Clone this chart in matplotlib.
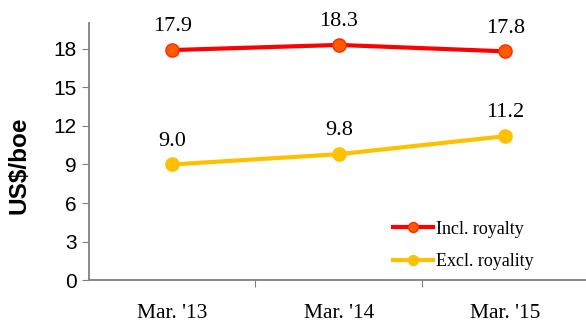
import matplotlib
matplotlib.use("Agg")
import matplotlib.pyplot as plt

categories = ["Mar. '13", "Mar. '14", "Mar. '15"]
incl_royalty = [17.9, 18.3, 17.8]
excl_royalty = [9.0, 9.8, 11.2]
yticks = [0, 3, 6, 9, 12, 15, 18]

sans = "Liberation Sans"
serif = "Liberation Serif"

fig = plt.figure(figsize=(5.86, 3.25), dpi=100)
ax = fig.add_axes([0.152, 0.138, 0.852, 0.791])
x = list(range(len(categories)))

ax.plot(x, incl_royalty, color="#FF0000", lw=3, marker="o", ms=9.5,
        mfc="#FF5A00", mec="#FF2A00", mew=1, label="Incl. royalty", zorder=3)
ax.plot(x, excl_royalty, color="#FFC000", lw=3, marker="o", ms=9.5,
        mfc="#FFC000", mec="#FFC000", label="Excl. royality", zorder=3)

for series in (incl_royalty, excl_royalty):
    for xi, v in zip(x, series):
        ax.annotate(f"{v:.1f}", (xi, v), xytext=(0, 13.5), textcoords="offset points",
                    ha="center", va="baseline", fontsize=16, family=serif)

ax.set_xlim(-0.5, 2.5)
ax.set_ylim(0, 20)
ax.set_yticks(yticks)
ax.set_yticklabels([str(t) for t in yticks], family=sans, fontsize=15)
ax.set_xticks([0.5, 1.5])
ax.set_xticklabels([])
ax.set_xticks(x, minor=True)
ax.set_xticklabels(categories, minor=True, family=serif, fontsize=15.5)
ax.tick_params(axis="x", which="minor", length=0, pad=17)
ax.tick_params(axis="x", which="major", length=5, color="#808080", direction="out")
ax.tick_params(axis="y", length=5, color="#808080", direction="out", pad=4)

for s in ["top", "right"]:
    ax.spines[s].set_visible(False)
for s in ["left", "bottom"]:
    ax.spines[s].set_color("#808080")
    ax.spines[s].set_linewidth(1.3)

ax.set_ylabel("US$/boe", family=sans, fontweight="bold", fontsize=17.5)
ax.yaxis.set_label_coords(-0.118, 0.447)

leg = ax.legend(loc="center left", bbox_to_anchor=(0.609, 0.136), frameon=False,
                prop={"family": serif, "size": 13}, handlelength=2.2,
                handletextpad=0.15, labelspacing=0.85, markerscale=0.75,
                borderpad=0, borderaxespad=0)

fig.savefig("out.png", dpi=100)
